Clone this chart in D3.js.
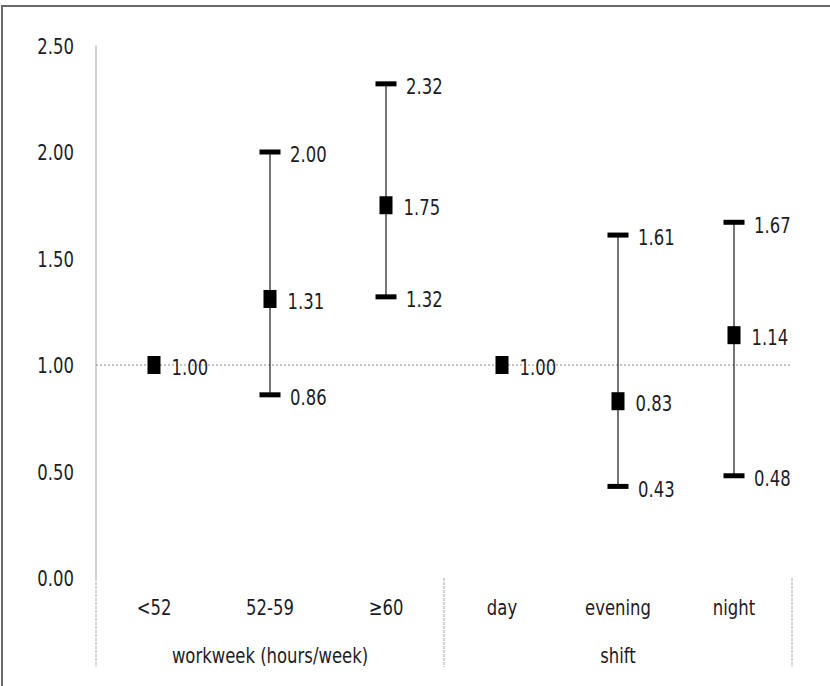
<!DOCTYPE html>
<html>
<head>
<meta charset="utf-8">
<script src="https://cdn.jsdelivr.net/npm/d3@7"></script>
<style>
  html, body { margin: 0; padding: 0; background: #fff; }
  svg text { font-family: "DejaVu Sans Condensed", "Liberation Sans", sans-serif; fill: #1c1c24; }
</style>
</head>
<body>
<svg id="chart" width="830" height="686"></svg>
<script>
// Odds ratios with 95% confidence intervals by workweek length and shift
const categories = ["<52", "52-59", "\u226560", "day", "evening", "night"];
const estimates  = [1.00, 1.31, 1.75, 1.00, 0.83, 1.14];
const lowerCI    = [null, 0.86, 1.32, null, 0.43, 0.48];
const upperCI    = [null, 2.00, 2.32, null, 1.61, 1.67];
const groups     = ["workweek (hours/week)", "shift"];
const groupSizes = [3, 3];
const yTicks     = [0, 0.5, 1, 1.5, 2, 2.5];

const svg = d3.select("#chart");
const W = 830, H = 686;
const plotL = 96, plotR = 792, plotT = 45.5, plotB = 578;

const fontSize = 18.3;
const stretch = 1.2;   // tall, narrow lettering
const place = (X, Y) => `translate(${X},${Y}) scale(1,${stretch})`;

// outer frame
svg.append("rect")
  .attr("x", 2).attr("y", 6).attr("width", W + 10).attr("height", H + 10)
  .attr("fill", "none").attr("stroke", "#6a6a6a").attr("stroke-width", 2);

const x = d3.scaleBand().domain(categories).range([plotL, plotR]).padding(0);
const y = d3.scaleLinear().domain([0, 2.5]).range([plotB, plotT]);

// y axis labels
const yAxis = d3.axisLeft(y).tickValues(yTicks).tickFormat(d3.format(".2f")).tickSize(0).tickPadding(22);
const yg = svg.append("g").attr("transform", `translate(${plotL},0)`).call(yAxis);
yg.select(".domain").remove();
yg.selectAll("text").attr("font-size", fontSize).attr("font-family", null).attr("fill", null)
  .attr("dy", "0.36em").attr("transform", `scale(1,${stretch})`);

// vertical axis line
svg.append("line")
  .attr("x1", plotL).attr("x2", plotL).attr("y1", plotT).attr("y2", plotB)
  .attr("stroke", "#c0c0c0").attr("stroke-width", 1.5);

// group separators below the plot area
let acc = 0;
const sepXs = [plotL];
groupSizes.forEach(n => { acc += n; sepXs.push(x(categories[acc - 1]) + x.bandwidth()); });
svg.selectAll("line.sep").data(sepXs).join("line").attr("class", "sep")
  .attr("x1", d => d).attr("x2", d => d)
  .attr("y1", plotB).attr("y2", 667)
  .attr("stroke", "#a8a8a8").attr("stroke-width", 1)
  .attr("stroke-dasharray", "3,1");

// reference line at 1.00
svg.append("line")
  .attr("x1", plotL).attr("x2", plotR).attr("y1", y(1)).attr("y2", y(1))
  .attr("stroke", "#8a8a8a").attr("stroke-width", 1).attr("stroke-dasharray", "2,2");

// category labels
svg.selectAll("text.cat").data(categories).join("text").attr("class", "cat")
  .attr("transform", d => place(x(d) + x.bandwidth() / 2, 607))
  .attr("dy", "0.36em").attr("text-anchor", "middle").attr("font-size", fontSize)
  .text(d => d);

// group labels
acc = 0;
const groupCenters = groupSizes.map(n => {
  const a = x(categories[acc]);
  acc += n;
  const b = x(categories[acc - 1]) + x.bandwidth();
  return (a + b) / 2;
});
svg.selectAll("text.grp").data(groups).join("text").attr("class", "grp")
  .attr("transform", (d, i) => place(groupCenters[i], 655))
  .attr("dy", "0.36em").attr("text-anchor", "middle").attr("font-size", fontSize)
  .text(d => d);

const rows = categories.map((c, i) => ({ c, est: estimates[i], lo: lowerCI[i], hi: upperCI[i] }));
const cx = d => x(d.c) + x.bandwidth() / 2;
const ci = rows.filter(d => d.lo != null);

// whiskers
svg.selectAll("line.whisker").data(ci).join("line").attr("class", "whisker")
  .attr("x1", cx).attr("x2", cx).attr("y1", d => y(d.hi)).attr("y2", d => y(d.lo))
  .attr("stroke", "#2a2a2a").attr("stroke-width", 1.3);

// caps
const capW = 21, capH = 5;
["lo", "hi"].forEach(k => {
  svg.selectAll(`rect.cap-${k}`).data(ci).join("rect").attr("class", `cap-${k}`)
    .attr("x", d => cx(d) - capW / 2).attr("y", d => y(d[k]) - capH / 2)
    .attr("width", capW).attr("height", capH).attr("fill", "#000");
  svg.selectAll(`text.cap-${k}`).data(ci).join("text").attr("class", `cap-${k}`)
    .attr("transform", d => place(cx(d) + 20, y(d[k]) + 2.5))
    .attr("dy", "0.36em").attr("font-size", fontSize)
    .text(d => d[k].toFixed(2));
});

// point estimates
const mW = 13, mH = 18;
svg.selectAll("rect.pt").data(rows).join("rect").attr("class", "pt")
  .attr("x", d => cx(d) - mW / 2).attr("y", d => y(d.est) - mH / 2)
  .attr("width", mW).attr("height", mH).attr("fill", "#000");
svg.selectAll("text.pt").data(rows).join("text").attr("class", "pt")
  .attr("transform", d => place(cx(d) + 17.5, y(d.est) + 2))
  .attr("dy", "0.36em").attr("font-size", fontSize)
  .text(d => d.est.toFixed(2));
</script>
</body>
</html>
